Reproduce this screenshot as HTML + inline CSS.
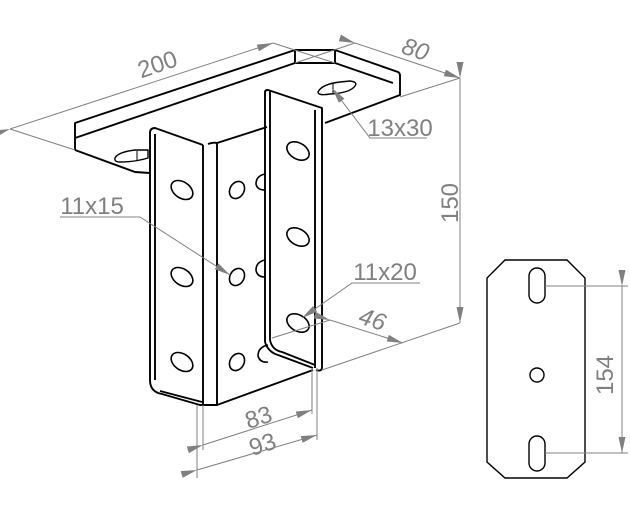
<!DOCTYPE html>
<html><head><meta charset="utf-8"><style>html,body{margin:0;padding:0;background:#fff}svg{display:block}</style></head>
<body>
<svg width="630" height="508" viewBox="0 0 630 508" xmlns="http://www.w3.org/2000/svg">
<defs>
<marker id="a" viewBox="0 0 16 7" refX="16" refY="3.5" markerWidth="16" markerHeight="7" orient="auto" markerUnits="userSpaceOnUse"><path d="M0,0 L16,3.5 L0,7 z" fill="#808080"/></marker>
</defs>
<g fill="none" stroke="#000" stroke-width="1.9" stroke-linejoin="round">
<path d="M75,150 L75,123 L295,50 L335,50 L398,72 Q400,73 400,76 L400,95 L325,123"/>
<path d="M75,138 L295,63 L335,63 L393,83"/>
<path d="M295,50 L295,63 M335,50 L335,63"/>
<path d="M75,150 L135,172 L150,173"/>
<path d="M318,92 Q322,84 340,82 L350,81 Q358,82 355,86 Q350,93 330,94 Q318,96 318,92 Z" stroke-width="1.4"/>
<path d="M333,83 L333,94" stroke-width="1"/>
<path d="M115,158 Q118,152 135,150 L148,150 L148,158 Q135,162 120,162 Q114,162 115,158 Z" stroke-width="1.4"/>
<path d="M137,151 L137,161" stroke-width="1"/>
<path d="M150,380 L150,133 Q150,128 155,128 L203,145"/>
<path d="M155,380 L155,134"/>
<path d="M150,380 Q150,392 162,394 L200,405 L217,405 L313,370"/>
<path d="M160,391 L202,402"/>
<path d="M203,145 L203,405 M208,144 Q213,142 217,143 L217,405"/>
<path d="M217,143 L267,127"/>
<path d="M265,342 L265,92 Q265,90 268,90 L322,108 L322,367 Q322,372 316,370"/>
<path d="M270,91 L270,340"/>
<path d="M315,110 L315,368"/>
<path d="M265,342 Q268,352 278,355 L313,368"/>
<path d="M270,340 Q272,350 282,352 L315,365"/>
<g stroke-width="1.6">
<ellipse cx="182" cy="190" rx="12" ry="8" transform="rotate(35 182 190)"/>
<ellipse cx="182" cy="277" rx="12" ry="8" transform="rotate(35 182 277)"/>
<ellipse cx="182" cy="362" rx="12" ry="8" transform="rotate(35 182 362)"/>
<ellipse cx="237" cy="190" rx="7" ry="9" transform="rotate(30 237 190)"/>
<ellipse cx="237" cy="277" rx="7" ry="9" transform="rotate(30 237 277)"/>
<ellipse cx="237" cy="362" rx="7" ry="9" transform="rotate(30 237 362)"/>
<path d="M265,174 Q256,176 256,184 Q257,190 265,190"/>
<path d="M265,260 Q256,262 256,270 Q257,277 265,277"/>
<path d="M268,345 Q258,347 258,356 Q260,363 268,362"/>
<ellipse cx="298" cy="151" rx="12" ry="8" transform="rotate(30 298 151)"/>
<ellipse cx="298" cy="237" rx="12" ry="8" transform="rotate(30 298 237)"/>
<ellipse cx="298" cy="323" rx="12" ry="8" transform="rotate(30 298 323)"/>
</g>
</g>
<g stroke="#808080" stroke-width="1" fill="none">
<path d="M10,129 L273,43" marker-start="url(#a)" marker-end="url(#a)"/>
<path d="M10,129 L75,150 M273,43 L335,63"/>
<path d="M355,43 L460,78" marker-start="url(#a)" marker-end="url(#a)"/>
<path d="M355,43 L295,63 M460,78 L400,97"/>
<path d="M460,78 L460,323" marker-start="url(#a)" marker-end="url(#a)"/>
<path d="M460,323 L322,370"/>
<path d="M330,320 L403,343" marker-start="url(#a)" marker-end="url(#a)"/>
<path d="M330,320 L272,338"/>
<path d="M203,445 L312,410" marker-start="url(#a)" marker-end="url(#a)"/>
<path d="M203,405 L203,450 M312,368 L312,414"/>
<path d="M197,470 L317,435" marker-start="url(#a)" marker-end="url(#a)"/>
<path d="M197,405 L197,478 M317,368 L317,440"/>
<path d="M427,138 L370,138 L332,88" marker-end="url(#a)"/>
<path d="M60,217 L140,217 L230,275" marker-end="url(#a)"/>
<path d="M420,283 L352,283 L302,318" marker-end="url(#a)"/>
</g>
<g fill="#808080" font-family="Liberation Sans, sans-serif" font-size="24" text-anchor="middle">
<text transform="translate(160,72) rotate(-19)">200</text>
<text transform="translate(413,57) rotate(18)" font-style="italic">80</text>
<text transform="translate(458,203) rotate(-90)">150</text>
<text transform="translate(370,327) rotate(18)" font-style="italic">46</text>
<text transform="translate(261,425) rotate(-18)">83</text>
<text transform="translate(265,452) rotate(-18)">93</text>
<text x="400" y="136">13x30</text>
<text x="92" y="214">11x15</text>
<text x="385" y="280">11x20</text>
<text transform="translate(613,375) rotate(-90)">154</text>
</g>
<g fill="none" stroke="#000" stroke-width="1.4">
<path d="M505,260 L567,260 L585,278 L585,462 L567,478 L505,478 L487,462 L487,278 Z"/>
<rect x="529" y="268" width="16" height="35" rx="8"/>
<rect x="529" y="436" width="16" height="35" rx="8"/>
<circle cx="537" cy="375" r="7"/>
</g>
<g stroke="#808080" stroke-width="1" fill="none">
<path d="M545,286 L628,286 M545,453 L628,453"/>
<path d="M622,286 L622,453" marker-start="url(#a)" marker-end="url(#a)"/>
</g>
</svg>
</body></html>
